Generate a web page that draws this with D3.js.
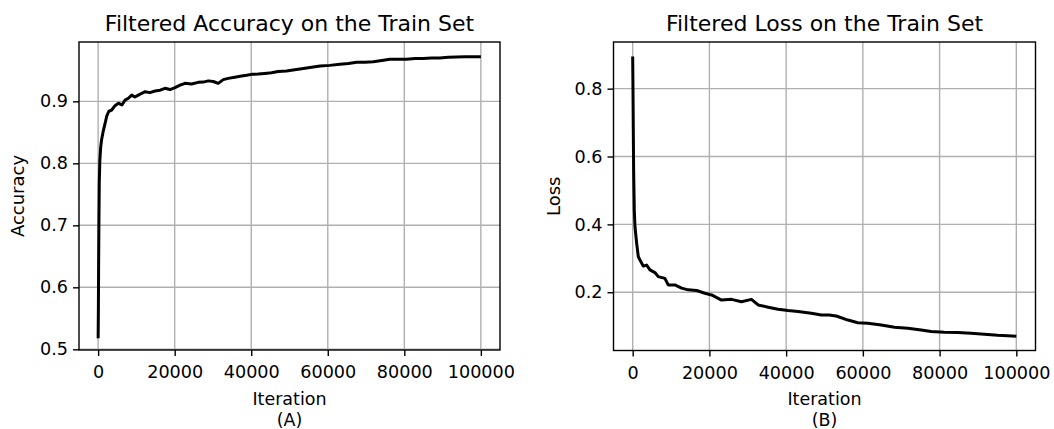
<!DOCTYPE html>
<html>
<head>
<meta charset="utf-8">
<script src="https://cdn.jsdelivr.net/npm/d3@7"></script>
<style>
  body { margin: 0; background: #fff; }
  text { font-family: "DejaVu Sans", sans-serif; fill: #000; }
  .tick text { font-size: 17.6px; }
  .grid line { stroke: #b0b0b0; stroke-width: 1.4px; }
</style>
</head>
<body>
<div id="chart"></div>
<script>
// ------------ DATA ------------
// Iterations / values
var accIter = [0, 60, 120, 200, 300, 450, 650, 900, 1300, 1800, 2240, 2800, 3550, 4400, 5300, 6200, 7040, 7900, 8770, 9600, 10500, 11400, 12260, 13500, 14870, 16200, 17470, 18800, 20080, 21400, 22690, 24400, 26160, 27500, 28770, 30100, 31370, 32700, 33980, 35700, 37450, 38800, 40060, 41800, 43550, 45300, 47020, 49200, 51380, 53620, 55800, 57980, 60500, 63190, 65400, 67550, 69700, 71880, 74100, 76230, 78400, 80590, 82800, 84920, 87100, 89270, 91500, 93630, 95800, 97960, 100000];
var accVal  = [0.518, 0.56, 0.63, 0.70, 0.77, 0.805, 0.825, 0.838, 0.851, 0.864, 0.876, 0.884, 0.886, 0.893, 0.897, 0.894, 0.902, 0.905, 0.910, 0.907, 0.910, 0.913, 0.9155, 0.914, 0.9166, 0.918, 0.921, 0.919, 0.922, 0.926, 0.929, 0.928, 0.9306, 0.931, 0.933, 0.932, 0.929, 0.935, 0.937, 0.939, 0.941, 0.942, 0.9435, 0.944, 0.945, 0.946, 0.948, 0.949, 0.951, 0.953, 0.955, 0.957, 0.958, 0.9597, 0.961, 0.963, 0.963, 0.964, 0.966, 0.968, 0.968, 0.968, 0.969, 0.969, 0.970, 0.970, 0.971, 0.9715, 0.972, 0.972, 0.972];

var lossIter = [0, 80, 160, 250, 420, 600, 1040, 1460, 1900, 2760, 3640, 4500, 5800, 6660, 8400, 9260, 11000, 12750, 14470, 16650, 18810, 20560, 23160, 25760, 28360, 30960, 32700, 35300, 37900, 40500, 43100, 46570, 49180, 51200, 53080, 56100, 58700, 61300, 64780, 68250, 71710, 75190, 77790, 81250, 84720, 88190, 91650, 95120, 97720, 100000];
var lossVal  = [0.895, 0.80, 0.68, 0.56, 0.442, 0.393, 0.344, 0.305, 0.295, 0.277, 0.280, 0.266, 0.258, 0.246, 0.241, 0.2215, 0.2215, 0.212, 0.207, 0.205, 0.197, 0.192, 0.177, 0.179, 0.172, 0.179, 0.1626, 0.156, 0.150, 0.146, 0.143, 0.138, 0.133, 0.133, 0.130, 0.118, 0.110, 0.1087, 0.1037, 0.097, 0.094, 0.089, 0.084, 0.082, 0.081, 0.079, 0.076, 0.073, 0.072, 0.070];

var xTicks = [0, 20000, 40000, 60000, 80000, 100000];
var accTicks = [0.5, 0.6, 0.7, 0.8, 0.9];
var lossTicks = [0.2, 0.4, 0.6, 0.8];

// ------------ SVG ------------
var svgWidth = 1054;
var svgHeight = 429;

var svg = d3.select("#chart")
  .append("svg")
  .attr("width", svgWidth)
  .attr("height", svgHeight);

// draw one panel
function drawPanel(opts) {
  var w = opts.right - opts.left;
  var h = opts.bottom - opts.top;

  var g = svg.append("g")
    .attr("transform", `translate(${opts.left}, ${opts.top})`);

  var x = d3.scaleLinear()
    .domain([-5000, 105000])
    .range([0, w]);
  var y = d3.scaleLinear()
    .domain(opts.yDomain)
    .range([h, 0]);

  // grid
  g.append("g")
    .classed("grid", true)
    .selectAll("line.v")
    .data(xTicks)
    .enter()
    .append("line")
      .attr("x1", d => x(d)).attr("x2", d => x(d))
      .attr("y1", 0).attr("y2", h);
  g.append("g")
    .classed("grid", true)
    .selectAll("line.h")
    .data(opts.yTicks)
    .enter()
    .append("line")
      .attr("x1", 0).attr("x2", w)
      .attr("y1", d => y(d)).attr("y2", d => y(d));

  // line
  var line = d3.line()
    .x(d => x(d[0]))
    .y(d => y(d[1]));
  g.append("path")
    .datum(d3.zip(opts.xs, opts.ys))
    .attr("d", line)
    .attr("fill", "none")
    .attr("stroke", "#000")
    .attr("stroke-width", 3)
    .attr("stroke-linejoin", "round");

  // axes
  var bottomAxis = d3.axisBottom(x).tickValues(xTicks).tickFormat(d3.format("d")).tickSize(6).tickSizeOuter(0);
  var leftAxis = d3.axisLeft(y).tickValues(opts.yTicks).tickFormat(d3.format(".1f")).tickSize(6).tickPadding(5).tickSizeOuter(0);

  var xa = g.append("g")
    .attr("transform", "translate(0, " + h + ")")
    .call(bottomAxis);
  xa.selectAll(".tick text").attr("y", 28).attr("dy", 0);
  var ya = g.append("g").call(leftAxis);

  [xa, ya].forEach(function(a) {
    a.select(".domain").remove();
    a.selectAll(".tick line").attr("stroke", "#000").attr("stroke-width", 1.4);
    a.selectAll(".tick text").attr("fill", "#000");
  });

  // frame
  g.append("rect")
    .attr("width", w)
    .attr("height", h)
    .attr("fill", "none")
    .attr("stroke", "#000")
    .attr("stroke-width", 1.4);

  // ------------ LABELS ------------
  g.append("text")
    .attr("x", w / 2)
    .attr("y", 31 - opts.top)
    .attr("text-anchor", "middle")
    .attr("font-size", "22px")
    .text(opts.title);

  g.append("text")
    .attr("x", w / 2)
    .attr("y", 405 - opts.top)
    .attr("text-anchor", "middle")
    .attr("font-size", "17.5px")
    .text("Iteration");
  g.append("text")
    .attr("x", w / 2)
    .attr("y", 425.5 - opts.top)
    .attr("text-anchor", "middle")
    .attr("font-size", "17.5px")
    .text(opts.sub);

  g.append("text")
    .attr("transform", "rotate(-90)")
    .attr("x", -h / 2)
    .attr("y", opts.yLabelX - opts.left)
    .attr("text-anchor", "middle")
    .attr("font-size", "18px")
    .text(opts.yLabel);
}

drawPanel({
  left: 79, right: 500, top: 42, bottom: 350,
  yDomain: [0.4989, 0.9957],
  yTicks: accTicks,
  xs: accIter, ys: accVal,
  title: "Filtered Accuracy on the Train Set",
  yLabel: "Accuracy", yLabelX: 24,
  sub: "(A)"
});

drawPanel({
  left: 613.5, right: 1035.5, top: 42, bottom: 350.5,
  yDomain: [0.0283, 0.9375],
  yTicks: lossTicks,
  xs: lossIter, ys: lossVal,
  title: "Filtered Loss on the Train Set",
  yLabel: "Loss", yLabelX: 560,
  sub: "(B)"
});
</script>
</body>
</html>
